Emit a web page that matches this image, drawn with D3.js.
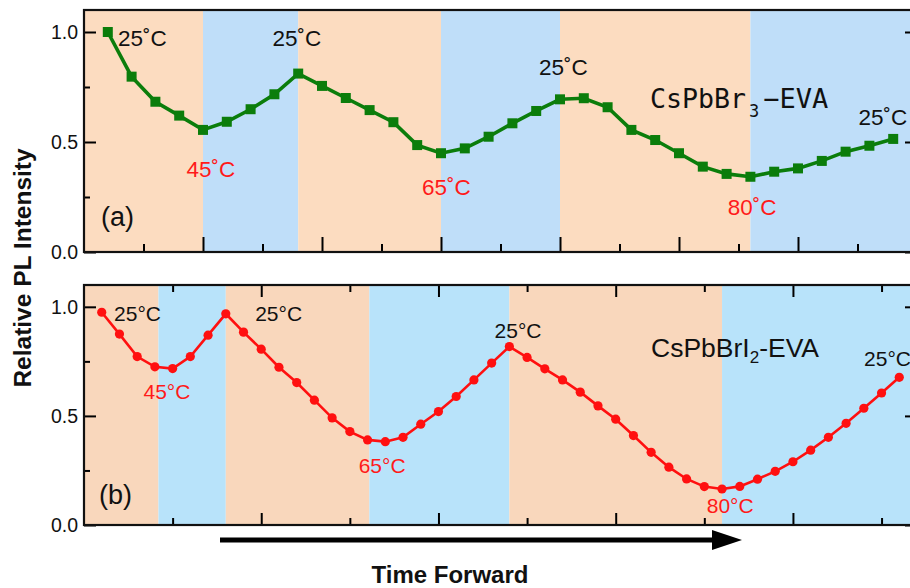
<!DOCTYPE html>
<html>
<head>
<meta charset="utf-8">
<script src="https://cdn.jsdelivr.net/npm/d3@7"></script>
<style>
body{margin:0;background:#fff;}
</style>
</head>
<body>
<svg id="chart" width="910" height="588" font-family="Liberation Sans, Arial, sans-serif"></svg>
<script>
// CsPbBr3-EVA, relative PL intensity, one point per step (1..34)
let brIntensity = [1.00,0.797,0.683,0.620,0.555,0.592,0.649,0.717,0.811,0.755,0.700,0.645,0.590,0.486,0.449,
    0.471,0.524,0.585,0.641,0.694,0.699,0.658,0.555,0.509,0.449,0.388,0.355,0.342,0.365,0.380,0.414,0.456,0.483,0.514];
// CsPbBrI2-EVA, one point per step (1..46)
let iIntensity = [0.975,0.875,0.772,0.725,0.717,0.772,0.870,0.968,0.884,0.806,0.723,0.653,0.572,0.491,0.428,
    0.390,0.382,0.402,0.462,0.520,0.589,0.665,0.742,0.818,0.768,0.716,0.665,0.609,0.546,0.485,0.410,0.333,
    0.265,0.211,0.176,0.165,0.177,0.210,0.246,0.290,0.343,0.402,0.466,0.535,0.605,0.677];
// heating / cooling stages, in steps
let brStages = [[0,5,"heat"],[5,9,"cool"],[9,15,"heat"],[15,20,"cool"],[20,28,"heat"],[28,35,"cool"]];
let iStages = [[0,4.2,"heat"],[4.2,8,"cool"],[8,16.1,"heat"],[16.1,24,"cool"],[24,36,"heat"],[36,47,"cool"]];
// temperature notes: step, intensity, text, hot?
let brTemps = [[2.45,0.936,"25","n"],[5.33,0.341,"45","h"],[8.94,0.936,"25","n"],[15.23,0.259,"65","h"],
    [20.14,0.805,"25","n"],[28.07,0.168,"80","h"],[33.57,0.577,"25","n"]];
let iTemps = [[3.02,0.936,"25","n"],[4.68,0.578,"45","h"],[10.98,0.936,"25","n"],[16.82,0.239,"65","h"],
    [24.49,0.858,"25","n"],[36.46,0.055,"80","h"],[45.34,0.729,"25","n"]];
let yMajor = [0,0.5,1.0], yMinor = [0.25,0.75];
let brXMajor = [5,10,15,20,25,30], brXMinor = [2.5,7.5,12.5,17.5,22.5,27.5,32.5];
let iXMajor = [10,20,30,40], iXMinor = [5,15,25,35,45];

let svg = d3.select("#chart");
let left = 84, right = 917;

function ticks(a){
    a.select(".domain").remove();
    a.selectAll("line").attr("stroke-width",2);
}

function panel(o){
    let x = d3.scaleLinear([0,o.xmax],[left,right]),
        y = d3.scaleLinear([0,1.1],[o.bottom,o.top]);
    let g = svg.append("g");
    let clipId = "clip"+o.name;
    svg.append("clipPath").attr("id",clipId).append("rect")
        .attr("x",left).attr("y",o.top).attr("width",right-left).attr("height",o.bottom-o.top);
    g.append("g").attr("clip-path","url(#"+clipId+")")
        .selectAll("rect").data(o.stages).enter().append("rect")
        .attr("x",d=>x(d[0])).attr("width",d=>x(d[1])-x(d[0]))
        .attr("y",o.top).attr("height",o.bottom-o.top)
        .attr("fill",d=>d[2]=="heat"?o.heatCol:o.coolCol);

    // y axes, ticks pointing in
    g.append("g").attr("transform","translate("+left+",0)")
        .call(d3.axisLeft(y).tickValues(yMajor).tickSize(-12).tickPadding(6).tickFormat(d3.format(".1f")))
        .call(ticks)
        .call(a=>a.selectAll("text").attr("font-size",19.5).attr("font-family","Liberation Sans, Arial").attr("fill","#111"));
    g.append("g").attr("transform","translate("+left+",0)")
        .call(d3.axisLeft(y).tickValues(yMinor).tickSize(-6).tickFormat("")).call(ticks);
    g.append("g").attr("transform","translate("+right+",0)")
        .call(d3.axisRight(y).tickValues(yMajor).tickSize(-12).tickFormat("")).call(ticks);
    g.append("g").attr("transform","translate("+right+",0)")
        .call(d3.axisRight(y).tickValues(yMinor).tickSize(-6).tickFormat("")).call(ticks);

    // x axes
    g.append("g").attr("transform","translate(0,"+o.bottom+")")
        .call(d3.axisBottom(x).tickValues(o.xMajor).tickSize(-o.majorLen).tickFormat("")).call(ticks);
    g.append("g").attr("transform","translate(0,"+o.bottom+")")
        .call(d3.axisBottom(x).tickValues(o.xMinor).tickSize(-o.minorLen).tickFormat("")).call(ticks);
    if(o.topTicks){
        g.append("g").attr("transform","translate(0,"+o.top+")")
            .call(d3.axisTop(x).tickValues(o.xMajor).tickSize(-o.majorLen).tickFormat("")).call(ticks);
        g.append("g").attr("transform","translate(0,"+o.top+")")
            .call(d3.axisTop(x).tickValues(o.xMinor).tickSize(-o.minorLen).tickFormat("")).call(ticks);
    }

    g.append("rect").attr("x",left).attr("y",o.top).attr("width",right-left).attr("height",o.bottom-o.top)
        .attr("fill","none").attr("stroke","#111").attr("stroke-width",2.2);

    let line = d3.line().x((d,i)=>x(i+1)).y(d=>y(d));
    g.append("path").datum(o.values).attr("d",line).attr("fill","none")
        .attr("stroke",o.color).attr("stroke-width",o.lineW);
    if(o.square){
        g.selectAll(".pt").data(o.values).enter().append("rect").attr("class","pt")
            .attr("x",(d,i)=>x(i+1)-5).attr("y",d=>y(d)-5).attr("width",10).attr("height",10)
            .attr("fill",o.color);
    }else{
        g.selectAll(".pt").data(o.values).enter().append("circle").attr("class","pt")
            .attr("cx",(d,i)=>x(i+1)).attr("cy",d=>y(d)).attr("r",4.6).attr("fill",o.color);
    }

    g.selectAll(".temp").data(o.temps).enter().append("text").attr("class","temp")
        .attr("x",d=>x(d[0])).attr("y",d=>y(d[1])).attr("text-anchor","middle")
        .attr("font-size",o.tempSize).attr("fill",d=>d[3]=="h"?"#ff1a1a":"#111")
        .text(d=>d[2]+o.deg);
    return {x:x,y:y,g:g};
}

let pa = panel({name:"a",xmax:35,top:10,bottom:252,stages:brStages,heatCol:"#fcdcc0",coolCol:"#bfdef9",
    xMajor:brXMajor,xMinor:brXMinor,majorLen:15,minorLen:8,topTicks:false,values:brIntensity,
    color:"#0b7d0b",lineW:3.6,square:true,temps:brTemps,tempSize:22.5,deg:"\u02DAC"});
let pb = panel({name:"b",xmax:47,top:285,bottom:525,stages:iStages,heatCol:"#f9d7bc",coolCol:"#b8e3fa",
    xMajor:iXMajor,xMinor:iXMinor,majorLen:12,minorLen:7,topTicks:true,values:iIntensity,
    color:"#ff1010",lineW:2.6,square:false,temps:iTemps,tempSize:21,deg:"\u00B0C"});

// panel letters and sample names
svg.append("text").attr("x",101).attr("y",226).attr("font-size",27).attr("fill","#111").text("(a)");
svg.append("text").attr("x",99).attr("y",504).attr("font-size",27).attr("fill","#111").text("(b)");

let tA = svg.append("text").attr("x",650).attr("y",108).attr("font-family","DejaVu Sans Mono")
    .attr("font-size",27).attr("fill","#111");
tA.append("tspan").attr("textLength",96).attr("lengthAdjust","spacingAndGlyphs").text("CsPbBr");
tA.append("tspan").attr("font-size",17).attr("dy",9).attr("dx",3).text("3");
tA.append("tspan").attr("dy",-9).attr("dx",4).text("\u2212EVA");

let tB = svg.append("text").attr("x",651).attr("y",357).attr("font-size",26.5).attr("fill","#111");
tB.append("tspan").text("CsPbBrI");
tB.append("tspan").attr("font-size",17).attr("dy",6).text("2");
tB.append("tspan").attr("dy",-6).text("-EVA");

// axis title and time arrow
svg.append("text").attr("transform","translate(31,268) rotate(-90)").attr("text-anchor","middle")
    .attr("font-size",24.5).attr("font-weight","bold").attr("fill","#111").text("Relative PL Intensity");
svg.append("line").attr("x1",220).attr("x2",716).attr("y1",540).attr("y2",540)
    .attr("stroke","#000").attr("stroke-width",5);
svg.append("path").attr("d","M712,530 L742,540 L712,550 Z").attr("fill","#000");
svg.append("text").attr("x",450).attr("y",583).attr("text-anchor","middle").attr("font-size",24)
    .attr("font-weight","bold").attr("fill","#111").text("Time Forward");
</script>
</body>
</html>
